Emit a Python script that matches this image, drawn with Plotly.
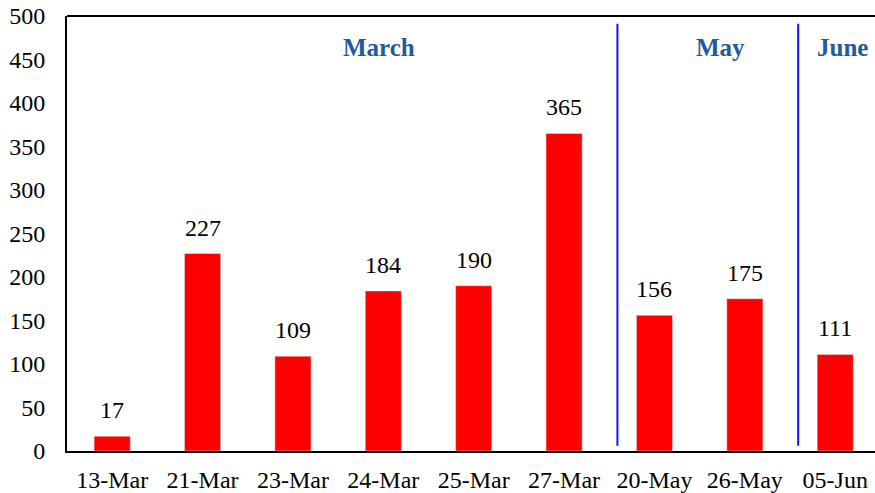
import plotly.graph_objects as go

dates = ["13-Mar", "21-Mar", "23-Mar", "24-Mar", "25-Mar", "27-Mar", "20-May", "26-May", "05-Jun"]
counts = [17, 227, 109, 184, 190, 365, 156, 175, 111]
months = ["March", "May", "June"]
month_pos = [2.95, 6.73, 8.08]
divider_pos = [5.59, 7.59]

font = "Liberation Serif, Times New Roman, serif"

fig = go.Figure()
fig.add_trace(go.Bar(x=list(range(len(dates))), y=counts, marker_color="#FF0000", width=0.4))

for i, v in enumerate(counts):
    fig.add_annotation(x=i, y=v, text=str(v), showarrow=False, yshift=26,
                       font=dict(size=24, color="black", family=font))

for m, p in zip(months, month_pos):
    fig.add_annotation(x=p, y=464, text="<b>" + m + "</b>", showarrow=False,
                       font=dict(size=25, color="#1F5B9C", family=font))

for p in divider_pos:
    fig.add_shape(type="line", x0=p, x1=p, y0=6, y1=491, line=dict(color="#1010FF", width=2))

fig.update_layout(
    width=875, height=493,
    margin=dict(l=67, r=0, t=16, b=42),
    plot_bgcolor="white", paper_bgcolor="white",
    showlegend=False,
    font=dict(family=font, size=24, color="black"),
    xaxis=dict(tickvals=list(range(len(dates))), ticktext=dates, range=[-0.5, 8.44],
               showline=True, linecolor="black", linewidth=2, mirror=False,
               showgrid=False, ticks="", tickfont=dict(size=24), ticklabelstandoff=6),
    yaxis=dict(range=[0, 500], dtick=50, showgrid=False, showline=True,
               linecolor="black", linewidth=2, ticks="", ticklabelstandoff=15,
               tickfont=dict(size=24), zeroline=False, ticklabeloverflow="allow"),
)
fig.add_shape(type="line", xref="paper", yref="paper", x0=0, x1=1, y0=1, y1=1,
              line=dict(color="black", width=2))

# drop the default page margin so the figure sits at the window's corner
fig.write_html("out.html", config={"displayModeBar": False},
               post_script="document.body.style.margin='0';document.body.style.overflow='hidden';")
